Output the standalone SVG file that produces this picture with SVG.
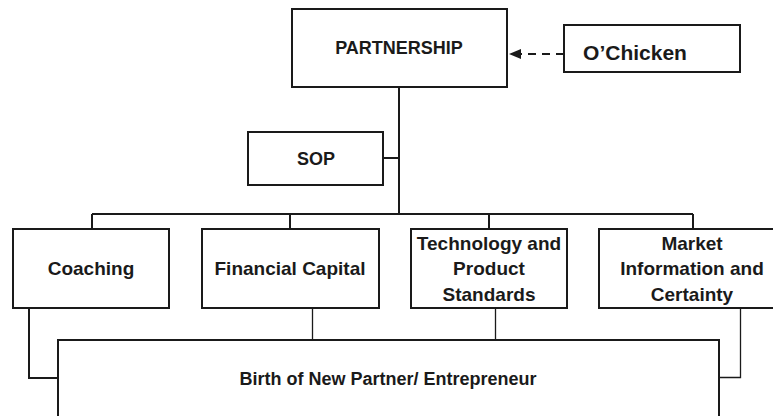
<svg xmlns="http://www.w3.org/2000/svg" width="773" height="416" viewBox="0 0 773 416">
  <style>
    .box { fill: #ffffff; stroke: #1a1a1a; stroke-width: 2; }
    .lbl { font-family: "Liberation Sans", Arial, sans-serif; font-weight: bold; fill: #1a1a1a; text-anchor: middle; }
    .link { fill: none; stroke: #1a1a1a; stroke-width: 2; }
    .thin { fill: none; stroke: #1a1a1a; stroke-width: 1.3; }
  </style>
  <defs>
    <marker id="head" viewBox="0 0 12 10" refX="12" refY="5" markerWidth="12" markerHeight="10" markerUnits="userSpaceOnUse" orient="auto">
      <path d="M0,0 L12,5 L0,10 Z" fill="#1a1a1a"/>
    </marker>
  </defs>
  <rect width="773" height="416" fill="#ffffff"/>

  <g id="connectors">
    <!-- trunk from PARTNERSHIP down to the bus -->
    <path class="link" d="M399,87 V214"/>
    <path class="link" d="M383,158 H399"/>
    <!-- bus and drops -->
    <path class="link" d="M92,214 H693"/>
    <path class="link" d="M92,214 V229"/>
    <path class="link" d="M290,214 V229"/>
    <path class="link" d="M489,214 V229"/>
    <path class="link" d="M693,214 V229"/>
    <!-- into the bottom box -->
    <path class="link" d="M29,308 V378 H58"/>
    <path class="thin" d="M312.5,308 V340"/>
    <path class="thin" d="M495.5,308 V340"/>
    <path class="thin" d="M740.5,308 V377.5 H719"/>
    <!-- dashed feed from O'Chicken -->
    <path class="link" d="M564,54 H509" stroke-dasharray="8,6" marker-end="url(#head)"/>
  </g>

  <g id="partnership">
    <rect class="box" x="292" y="9" width="215" height="78"/>
    <text class="lbl" x="399" y="54" font-size="18">PARTNERSHIP</text>
  </g>

  <g id="ochicken">
    <rect class="box" x="564" y="25" width="176" height="47"/>
    <text class="lbl" x="635" y="60" font-size="21">O’Chicken</text>
  </g>

  <g id="sop">
    <rect class="box" x="248" y="132" width="135" height="53"/>
    <text class="lbl" x="316" y="165" font-size="18">SOP</text>
  </g>

  <g id="coaching">
    <rect class="box" x="13" y="229" width="156" height="79"/>
    <text class="lbl" x="91" y="275" font-size="19">Coaching</text>
  </g>

  <g id="financial-capital">
    <rect class="box" x="202" y="229" width="177" height="79"/>
    <text class="lbl" x="290" y="275" font-size="19">Financial Capital</text>
  </g>

  <g id="technology">
    <rect class="box" x="411" y="229" width="156" height="79"/>
    <text class="lbl" x="489" y="250" font-size="19">Technology and</text>
    <text class="lbl" x="489" y="275" font-size="19">Product</text>
    <text class="lbl" x="489" y="301" font-size="19">Standards</text>
  </g>

  <g id="market">
    <rect class="box" x="599" y="229" width="190" height="79"/>
    <text class="lbl" x="692" y="250" font-size="19">Market</text>
    <text class="lbl" x="692" y="275" font-size="19">Information and</text>
    <text class="lbl" x="692" y="301" font-size="19">Certainty</text>
  </g>

  <g id="birth">
    <rect class="box" x="58" y="340" width="661" height="100"/>
    <text class="lbl" x="388" y="385" font-size="18">Birth of New Partner/ Entrepreneur</text>
  </g>
</svg>
